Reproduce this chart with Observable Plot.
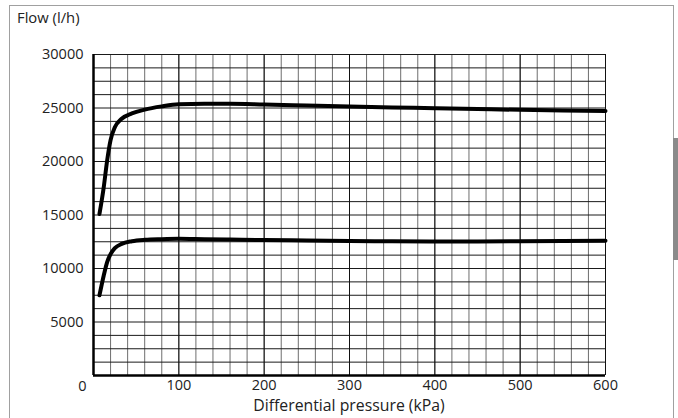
<!DOCTYPE html>
<html>
<head>
<meta charset="utf-8">
<script src="https://cdn.jsdelivr.net/npm/d3@7"></script>
<script src="https://cdn.jsdelivr.net/npm/@observablehq/plot@0.6"></script>
<style>
  html, body { margin: 0; padding: 0; background: #fff; }
  #wrap { position: relative; width: 678px; height: 418px; overflow: hidden; background: #fff; font-family: "Open Sans", sans-serif; color: #222; }
  #frame { position: absolute; left: 9px; top: 5px; width: 665px; height: 440px; border: 1.5px solid #a0a0a0; box-sizing: border-box; }
  #tab { position: absolute; left: 673px; top: 138px; width: 5px; height: 122px; background: #8a8a8a; }
  #chart { position: absolute; left: 0; top: 0; }
  #chart svg text { font-size: 14.5px !important; font-family: "Open Sans", sans-serif !important; fill: #222; }
  .t { position: absolute; white-space: nowrap; color: #222; }
</style>
</head>
<body>
<div id="wrap">
  <div id="frame"></div>
  <div id="tab"></div>
  <div id="chart"></div>
  <div class="t" id="ytitle" style="left:17px; top:7px; font-size:14.8px;">Flow (l/h)</div>
  <div class="t" id="xtitle" style="left:349px; top:394px; font-size:15.8px; transform:translateX(-50%);">Differential pressure (kPa)</div>
</div>
<script>
// Data
const pressure = [7, 12, 16, 20, 25, 33, 45, 60, 80, 100, 130, 160, 200, 250, 300, 350, 400, 450, 500, 550, 600];
const upperFlow = [15100, 17600, 20100, 22000, 23200, 24000, 24500, 24850, 25150, 25350, 25400, 25400, 25330, 25230, 25130, 25050, 24980, 24900, 24830, 24770, 24720];
const lowerFlow = [7500, 9350, 10600, 11350, 11900, 12300, 12550, 12680, 12740, 12770, 12730, 12700, 12660, 12620, 12580, 12540, 12530, 12530, 12540, 12560, 12590];

const xTickLabels = [100, 200, 300, 400, 500, 600];
const yTickLabels = [5000, 10000, 15000, 20000, 25000, 30000];
const xMinorGrid = d3.range(0, 601, 20);
const xMajorGrid = d3.range(0, 601, 100);
const yGrid = d3.range(0, 30001, 1250);

const upper = pressure.map((p, i) => ({p, f: upperFlow[i]}));
const lower = pressure.map((p, i) => ({p, f: lowerFlow[i]}));

const chart = Plot.plot({
  width: 678,
  height: 418,
  marginLeft: 93,
  marginRight: 73,
  marginTop: 54,
  marginBottom: 43,
  x: {domain: [0, 600]},
  y: {domain: [0, 30000]},
  style: {fontFamily: "Open Sans, sans-serif", fontSize: "14.5px", color: "#222", background: "transparent", overflow: "visible"},
  marks: [
    Plot.ruleX(xMinorGrid, {stroke: "#6e6e6e", strokeWidth: 1}),
    Plot.ruleY(yGrid, {stroke: "#1a1a1a", strokeWidth: 1}),
    Plot.ruleX(xMajorGrid, {stroke: "#111", strokeWidth: 1}),
    Plot.ruleX([0], {stroke: "#000", strokeWidth: 2.5}),
    Plot.ruleY([0], {stroke: "#000", strokeWidth: 2.5}),
    Plot.line(upper, {x: "p", y: "f", stroke: "#000", strokeWidth: 4, curve: "monotone-x"}),
    Plot.line(lower, {x: "p", y: "f", stroke: "#000", strokeWidth: 4, curve: "monotone-x"}),
    Plot.axisY(yTickLabels, {tickSize: 0, tickPadding: 10, label: null, tickFormat: d3.format("d")}),
    Plot.axisX(xTickLabels, {tickSize: 0, tickPadding: 4, label: null, tickFormat: d3.format("d")}),
    Plot.text(["0"], {x: () => 0, y: () => 0, dx: -11, dy: 11})
  ]
});
document.getElementById("chart").appendChild(chart);
</script>
</body>
</html>
